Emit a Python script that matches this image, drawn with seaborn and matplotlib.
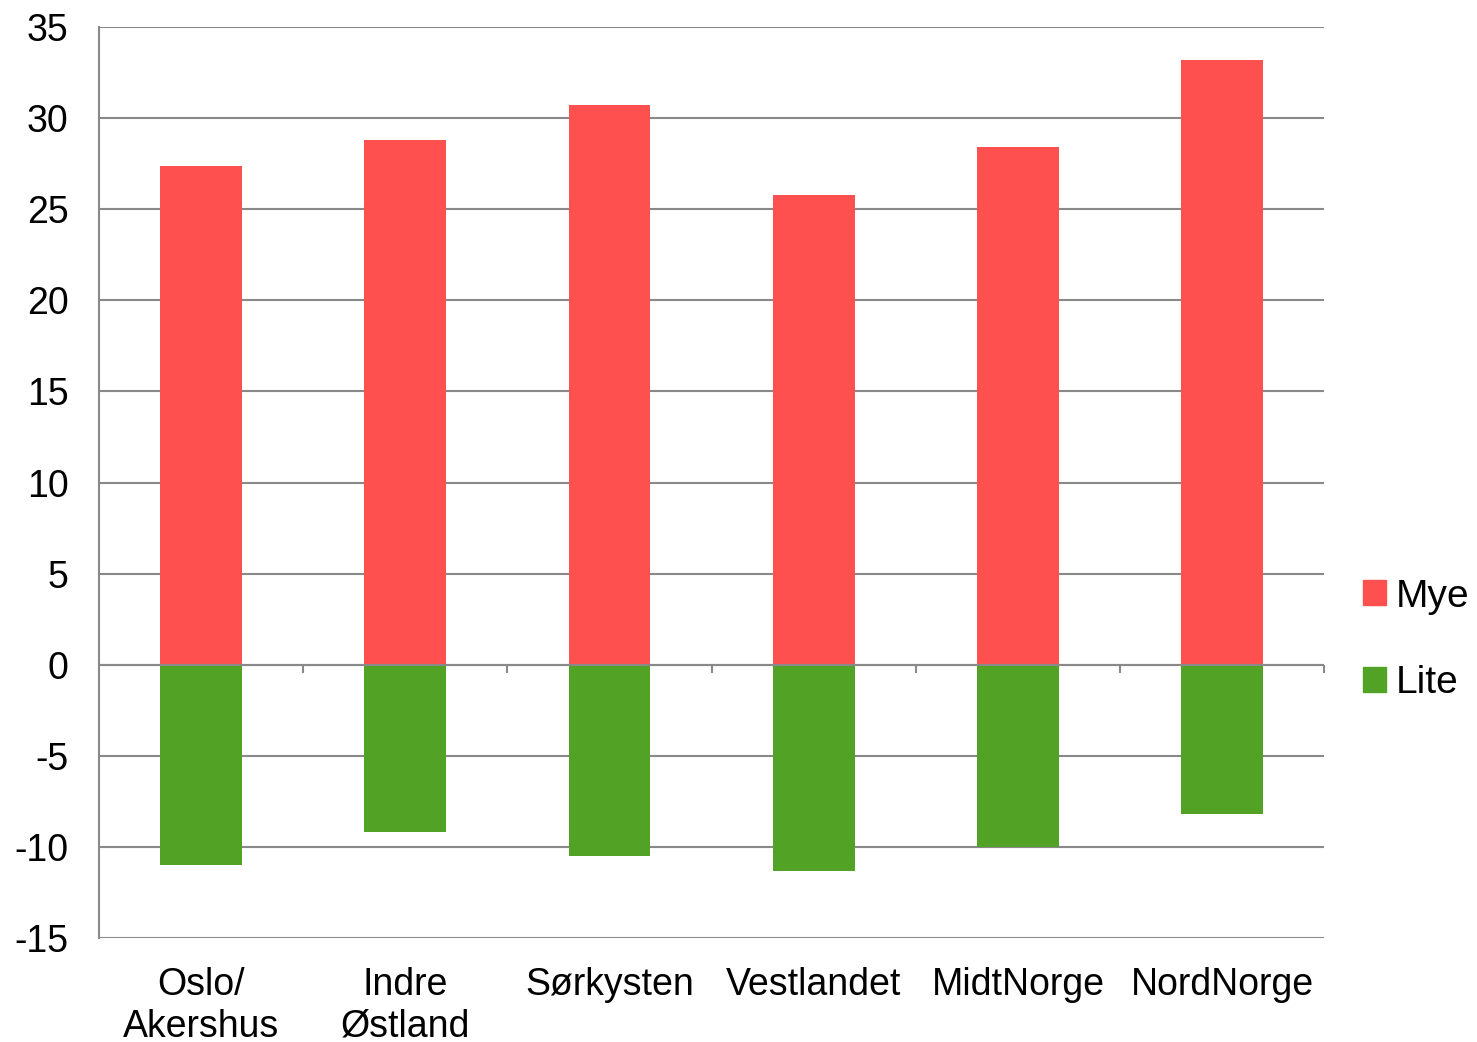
import matplotlib
matplotlib.use("Agg")
import matplotlib.pyplot as plt
import numpy as np
import seaborn as sns
from matplotlib.patches import Patch

# Data
regions = ["Oslo/\nAkershus", "Indre\nØstland", "Sørkysten", "Vestlandet", "MidtNorge", "NordNorge"]
mye = [27.4, 28.8, 30.7, 25.8, 28.4, 33.2]
lite = [-11.0, -9.2, -10.5, -11.3, -10.0, -8.2]

red = "#FF5050"
green = "#52A325"
grid_col = "#898989"

sns.set_style("white")
plt.rcParams["font.family"] = ["Liberation Sans", "DejaVu Sans"]
plt.rcParams["axes.unicode_minus"] = False
plt.rcParams["text.color"] = "black"

fig = plt.figure(figsize=(14.77, 10.42), dpi=100)
ax = fig.add_axes([0.067, 0.0998, 0.8297, 0.8742])

sns.barplot(x=regions, y=mye, color=red, width=0.4, saturation=1, linewidth=0, ax=ax, zorder=3)
sns.barplot(x=regions, y=lite, color=green, width=0.4, saturation=1, linewidth=0, ax=ax, zorder=3)

ax.set_ylim(-15, 35)
ax.set_xlim(-0.5, len(regions) - 0.5)
ax.set_yticks(np.arange(-15, 36, 5))
ax.yaxis.grid(True, color=grid_col, linewidth=1.5, zorder=0)
ax.set_axisbelow(True)

for side in ["top", "right", "bottom"]:
    ax.spines[side].set_visible(False)
ax.spines["left"].set_color(grid_col)
ax.spines["left"].set_linewidth(1.5)

ax.tick_params(axis="y", length=8, width=1.5, color=grid_col, labelsize=27, pad=14,
               labelcolor="black")
ax.tick_params(axis="x", length=0, labelsize=27, pad=21, labelcolor="black")

# zero line with category separators
ax.axhline(0, color=grid_col, linewidth=1.5, zorder=4)
bounds = np.arange(len(regions)) + 0.5
ax.vlines(bounds, -0.45, 0, color=grid_col, linewidth=1.5, zorder=4, clip_on=False)

ax.set_xlabel("")
ax.set_ylabel("")

handles = [Patch(color=red, label="Mye"), Patch(color=green, label="Lite")]
fig.legend(handles=handles, loc="center left", bbox_to_anchor=(0.899, 0.386),
           frameon=False, fontsize=28, handlelength=0.6, handleheight=0.6,
           handletextpad=0.25, labelspacing=1.3)

fig.savefig("out.png", dpi=100)
